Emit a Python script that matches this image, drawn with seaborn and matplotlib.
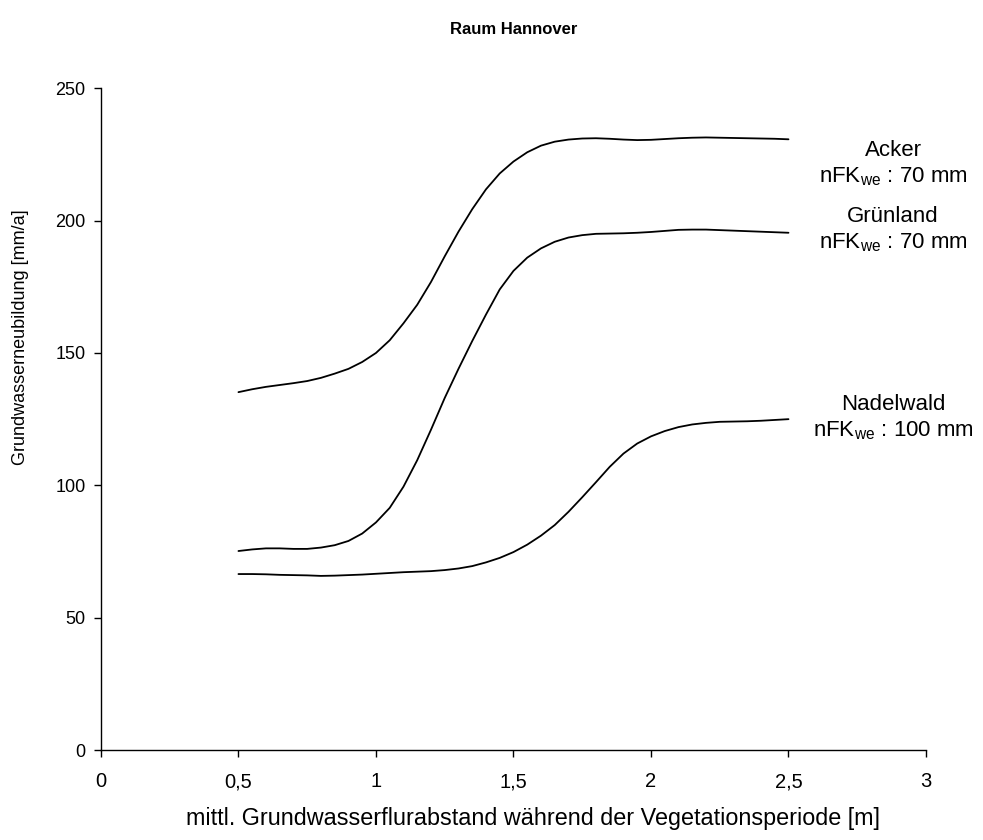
import numpy as np
import pandas as pd
import matplotlib
matplotlib.use('Agg')
import matplotlib.pyplot as plt
import seaborn as sns

# ============================================================================
# DATA
# ============================================================================

flurabstand = [0.50, 0.55, 0.60, 0.65, 0.70, 0.75, 0.80, 0.85, 0.90, 0.95,
               1.00, 1.05, 1.10, 1.15, 1.20, 1.25, 1.30, 1.35, 1.40, 1.45,
               1.50, 1.55, 1.60, 1.65, 1.70, 1.75, 1.80, 1.85, 1.90, 1.95,
               2.00, 2.05, 2.10, 2.15, 2.20, 2.25, 2.30, 2.35, 2.40, 2.45, 2.50]

acker = [135.2, 136.3, 137.2, 137.9, 138.6, 139.4, 140.6, 142.2, 144.0, 146.6,
         150.0, 154.8, 161.2, 168.2, 176.8, 186.5, 195.8, 204.3, 211.8, 217.8,
         222.3, 225.8, 228.3, 229.8, 230.6, 231.0, 231.1, 230.9, 230.6, 230.4,
         230.5, 230.8, 231.1, 231.3, 231.4, 231.3, 231.2, 231.1, 231.0, 230.9, 230.7]
gruenland = [75.2, 75.8, 76.2, 76.2, 76.0, 76.0, 76.5, 77.4, 79.0, 81.8,
             86.0, 91.5, 99.5, 109.5, 121.0, 133.0, 144.0, 154.5, 164.5, 174.0,
             181.0, 186.0, 189.5, 192.0, 193.6, 194.5, 195.0, 195.1, 195.2, 195.4,
             195.7, 196.1, 196.5, 196.6, 196.6, 196.4, 196.2, 196.0, 195.8, 195.6, 195.4]
nadelwald = [66.5, 66.5, 66.4, 66.2, 66.1, 66.0, 65.8, 65.9, 66.1, 66.3,
             66.6, 66.9, 67.2, 67.4, 67.6, 68.0, 68.6, 69.5, 70.9, 72.6,
             74.8, 77.6, 81.0, 85.0, 90.0, 95.5, 101.2, 107.0, 112.0, 115.8,
             118.5, 120.5, 122.0, 123.0, 123.6, 124.0, 124.1, 124.2, 124.4, 124.7, 125.0]

nutzungen = ['Acker', 'Grünland', 'Nadelwald']
nfk_labels = ['70 mm', '70 mm', '100 mm']
label_y = [221.5, 196.5, 125.5]   # vertical centre of the curve labels

x_ticks = [0, 0.5, 1, 1.5, 2, 2.5, 3]
x_ticklabels = ['0', '0,5', '1', '1,5', '2', '2,5', '3']
y_ticks = [0, 50, 100, 150, 200, 250]

df = pd.DataFrame({
    'x': flurabstand * 3,
    'y': acker + gruenland + nadelwald,
    'Nutzung': [n for n in nutzungen for _ in flurabstand],
})

# ============================================================================
# PLOT
# ============================================================================

sns.set_style('ticks')
plt.rcParams['font.family'] = ['Liberation Sans', 'DejaVu Sans']
plt.rcParams['text.color'] = 'black'
plt.rcParams['axes.labelcolor'] = 'black'
plt.rcParams['mathtext.fontset'] = 'custom'
plt.rcParams['mathtext.rm'] = 'Liberation Sans'
plt.rcParams['mathtext.it'] = 'Liberation Sans'

fig = plt.figure(figsize=(9.83, 8.40), dpi=100)
ax = fig.add_axes([0.1027, 0.107, 0.8393, 0.788])

sns.lineplot(data=df, x='x', y='y', hue='Nutzung', palette=['black'] * 3,
             linewidth=1.3, legend=False, ax=ax)

ax.set_xlim(0, 3)
ax.set_ylim(0, 250)
ax.set_xticks(x_ticks)
ax.set_xticklabels(x_ticklabels)
ax.set_yticks(y_ticks)
ax.tick_params(axis='both', direction='out', length=5, width=1, colors='black')
ax.tick_params(axis='y', labelsize=13, pad=6)
ax.tick_params(axis='x', labelsize=14.5, pad=11)
for side in ['left', 'bottom']:
    ax.spines[side].set_color('black')
    ax.spines[side].set_linewidth(1)
sns.despine(ax=ax)

ax.set_xlabel('mittl. Grundwasserflurabstand während der Vegetationsperiode [m]',
              fontsize=16.8, va='center')
ax.xaxis.set_label_coords(0.5236, -0.103)
ax.set_ylabel('Grundwasserneubildung [mm/a]', fontsize=13)
ax.yaxis.set_label_coords(-0.087, 0.624)
ax.set_title('Raum Hannover', fontsize=12, fontweight='bold', pad=39)

for name, nfk, ly in zip(nutzungen, nfk_labels, label_y):
    ax.text(2.88, ly, name + '\n' + r'nFK$_{\mathrm{we}}$ : ' + nfk,
            ha='center', va='center', multialignment='center',
            fontsize=16, linespacing=1.25, clip_on=False)

plt.savefig('out.png', dpi=100)
